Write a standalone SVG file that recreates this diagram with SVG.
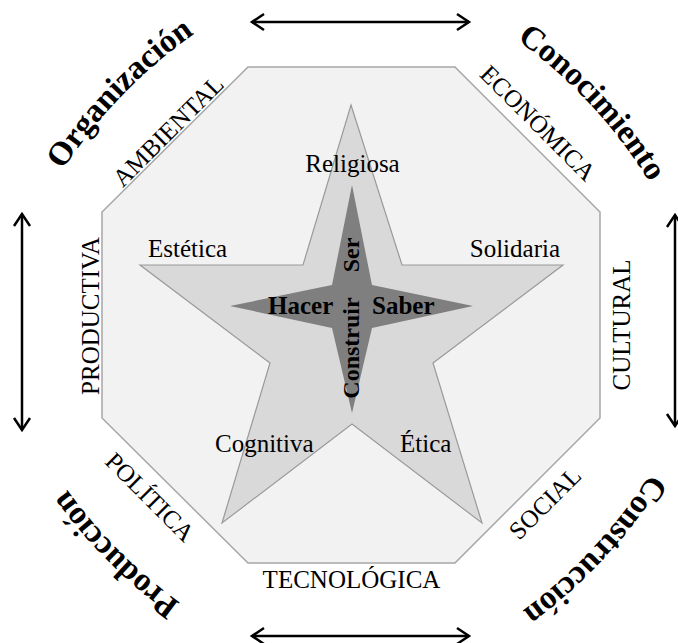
<svg xmlns="http://www.w3.org/2000/svg" width="678" height="643" viewBox="0 0 678 643">
<style>
  .lbl { font-family: "Liberation Serif", "Times New Roman", serif; font-size: 25px; fill: #000; }
  .core { font-family: "Liberation Serif", "Times New Roman", serif; font-size: 25px; font-weight: bold; fill: #000; }
  .corner { font-family: "Liberation Serif", "Times New Roman", serif; font-size: 33px; font-weight: bold; fill: #000; }
  .arrow { stroke: #000; stroke-width: 2.5; fill: none; marker-start: url(#head); marker-end: url(#head); }
</style>
<defs>
  <marker id="head" markerUnits="userSpaceOnUse" markerWidth="20" markerHeight="20" viewBox="-16 -10 20 20" refX="0" refY="0" orient="auto-start-reverse">
    <path d="M-12,-8 L0,0 L-12,8" fill="none" stroke="#000" stroke-width="2.5"/>
  </marker>
  <path id="arcOrg" d="M44.8,199.8 A500,500 0 0 1 223.4,14.8" fill="none"/>
  <path id="arcCon" d="M490.2,21.9 A500,500 0 0 1 665.6,210" fill="none"/>
  <path id="arcCons" d="M668.2,442.6 A500,500 0 0 1 492.8,630.7" fill="none"/>
  <path id="arcProd" d="M222,629.8 A500,500 0 0 1 40.2,448" fill="none"/>
</defs>
<rect width="678" height="643" fill="#fff"/>

<g id="octagon">
  <polygon points="248,67 455,67 600,212 600,418 455,563 248,563 102,418 102,212" fill="#f2f2f2" stroke="#a6a6a6" stroke-width="1.5"/>
</g>
<g id="star">
  <polygon points="351,105 402,265 563,265 433,363 482,523 352,424 222,523 270,363 140,265 303,265" fill="#d9d9d9" stroke="#9a9a9a" stroke-width="1.2"/>
</g>
<g id="core-star">
  <polygon points="352,185 372,285 473,306 372,328 352,413 332,328 230,306 332,285" fill="#7f7f7f"/>
</g>

<g id="connectors">
  <line class="arrow" x1="252" y1="22" x2="469" y2="22"/>
  <line class="arrow" x1="252" y1="636" x2="469" y2="636"/>
  <line class="arrow" x1="22" y1="214" x2="22" y2="430"/>
  <line class="arrow" x1="675" y1="215" x2="675" y2="426"/>
</g>

<g id="star-labels">
  <text class="lbl" x="352.5" y="172" text-anchor="middle">Religiosa</text>
  <text class="lbl" x="148" y="257">Estética</text>
  <text class="lbl" x="560" y="257" text-anchor="end">Solidaria</text>
  <text class="lbl" x="215" y="452">Cognitiva</text>
  <text class="lbl" x="400" y="452">Ética</text>
</g>

<g id="core-labels">
  <text class="core" x="268" y="314">Hacer</text>
  <text class="core" x="372" y="314">Saber</text>
  <text class="core" style="font-size:24px" transform="translate(359,255) rotate(-90)" text-anchor="middle">Ser</text>
  <text class="core" style="font-size:24px" transform="translate(359,348) rotate(-90)" text-anchor="middle">Construir</text>
</g>

<g id="edge-labels">
  <text class="lbl" transform="translate(174,137) rotate(-45)" text-anchor="middle">AMBIENTAL</text>
  <text class="lbl" transform="translate(532,129) rotate(45)" text-anchor="middle">ECONÓMICA</text>
  <text class="lbl" transform="translate(630,325) rotate(-90)" text-anchor="middle">CULTURAL</text>
  <text class="lbl" transform="translate(551,509) rotate(-45)" text-anchor="middle">SOCIAL</text>
  <text class="lbl" x="351.5" y="588" text-anchor="middle">TECNOLÓGICA</text>
  <text class="lbl" transform="translate(144,503) rotate(45)" text-anchor="middle">POLÍTICA</text>
  <text class="lbl" transform="translate(99,316) rotate(-90)" text-anchor="middle">PRODUCTIVA</text>
</g>

<g id="corner-labels">
  <text class="corner" text-anchor="middle"><textPath href="#arcOrg" startOffset="50%">Organización</textPath></text>
  <text class="corner" text-anchor="middle"><textPath href="#arcCon" startOffset="50%">Conocimiento</textPath></text>
  <text class="corner" text-anchor="middle"><textPath href="#arcCons" startOffset="50%">Construcción</textPath></text>
  <text class="corner" text-anchor="middle"><textPath href="#arcProd" startOffset="50%">Producción</textPath></text>
</g>
</svg>
